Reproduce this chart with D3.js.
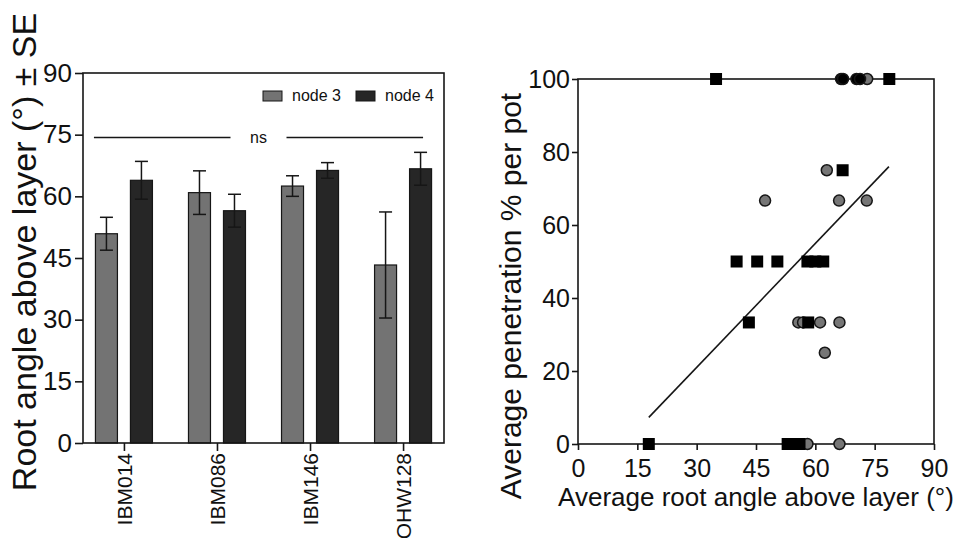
<!DOCTYPE html>
<html>
<head>
<meta charset="utf-8">
<script src="https://d3js.org/d3.v7.min.js"></script>
<style>
  body { margin: 0; background: #fff; }
  text { font-family: "Liberation Sans", Arial, sans-serif; fill: #111; }
</style>
</head>
<body>
<script>
// Left panel: root angle per genotype (mean +/- SE)
var genotypes = ["IBM014", "IBM086", "IBM146", "OHW128"];
var node3Mean = [50.9, 60.9, 62.5, 43.3];
var node3SE   = [4.0, 5.3, 2.5, 12.9];
var node4Mean = [63.9, 56.5, 66.3, 66.7];
var node4SE   = [4.6, 4.0, 1.9, 4.0];
var angleTicks = [0, 15, 30, 45, 60, 75, 90];
var nsLevel = 74.3;

// Right panel: penetration vs root angle
var squareAngle = [34.9, 78.7, 66.9, 40.1, 45.3, 50.4, 58.0, 60.0, 62.0, 43.2, 58.2, 17.9, 53.0, 54.5, 56.0];
var squarePen   = [100, 100, 75, 50, 50, 50, 50, 50, 50, 33.3, 33.3, 0, 0, 0, 0];
var circleAngle = [73.1, 62.9, 47.3, 66.0, 73.0, 55.7, 56.9, 61.2, 66.1, 62.4, 58.0, 66.1];
var circlePen   = [100, 75, 66.7, 66.7, 66.7, 33.3, 33.3, 33.3, 33.3, 25, 0, 0];
var darkAngle   = [66.5, 67.0, 70.4, 71.3];
var darkPen     = [100, 100, 100, 100];
var fitAngle = [17.9, 78.6];
var fitPen   = [7.3, 76.0];
var penTicks = [0, 20, 40, 60, 80, 100];

var ink = "#161616";

var svg = d3.select("body").append("svg")
    .attr("width", 957)
    .attr("height", 538);

// ---------- LEFT PANEL ----------
var x = d3.scalePoint().domain(genotypes).range([83, 444]).padding(0.44);
var y = d3.scaleLinear().domain([0, 90]).range([443, 73]);
var barW = 22, half = 6.5;

var left = svg.append("g");

var bars = [];
genotypes.forEach(function(g, i) {
    bars.push({ g: g, mean: node3Mean[i], se: node3SE[i], off: -half - barW, fill: "#737373" });
    bars.push({ g: g, mean: node4Mean[i], se: node4SE[i], off: half, fill: "#262626" });
});

left.selectAll("rect.bar")
    .data(bars)
    .enter()
    .append("rect")
    .attr("class", "bar")
    .attr("x", function(d) { return x(d.g) + d.off; })
    .attr("y", function(d) { return y(d.mean); })
    .attr("width", barW)
    .attr("height", function(d) { return y(0) - y(d.mean); })
    .attr("fill", function(d) { return d.fill; })
    .attr("stroke", ink)
    .attr("stroke-width", 1.2);

// error bars
var err = left.selectAll("g.err")
    .data(bars)
    .enter()
    .append("g")
    .attr("class", "err")
    .attr("stroke", ink)
    .attr("stroke-width", 1.5);
err.append("line")
    .attr("x1", function(d) { return x(d.g) + d.off + barW / 2; })
    .attr("x2", function(d) { return x(d.g) + d.off + barW / 2; })
    .attr("y1", function(d) { return y(d.mean - d.se); })
    .attr("y2", function(d) { return y(d.mean + d.se); });
[-1, 1].forEach(function(s) {
    err.append("line")
        .attr("x1", function(d) { return x(d.g) + d.off + barW / 2 - 6.5; })
        .attr("x2", function(d) { return x(d.g) + d.off + barW / 2 + 6.5; })
        .attr("y1", function(d) { return y(d.mean + s * d.se); })
        .attr("y2", function(d) { return y(d.mean + s * d.se); });
});

// frame
left.append("rect")
    .attr("x", 83).attr("y", 73)
    .attr("width", 444 - 83).attr("height", 443 - 73)
    .attr("fill", "none").attr("stroke", ink).attr("stroke-width", 1.6);

var yAxisL = left.append("g")
    .attr("transform", "translate(83,0)")
    .call(d3.axisLeft(y).tickValues(angleTicks).tickSize(8).tickPadding(3));
yAxisL.select(".domain").remove();
yAxisL.selectAll("line").attr("stroke", ink).attr("stroke-width", 1.6);
yAxisL.selectAll("text").style("font-size", "26px").attr("fill", "#111");

var xAxisL = left.append("g")
    .attr("transform", "translate(0,443)")
    .call(d3.axisBottom(x).tickSize(8));
xAxisL.select(".domain").remove();
xAxisL.selectAll("line").attr("stroke", ink).attr("stroke-width", 1.6);
xAxisL.selectAll("text")
    .style("font-size", "21px")
    .attr("fill", "#111")
    .attr("text-anchor", "end")
    .attr("transform", "rotate(-90)")
    .attr("x", -10)
    .attr("y", 0)
    .attr("dy", "0.36em");

// ns line
var nsY = y(nsLevel);
var nsL = x(genotypes[0]) - 30, nsR = x(genotypes[3]) + 20;
var nsMid = (nsL + nsR) / 2;
left.append("line").attr("x1", nsL).attr("x2", nsMid - 28).attr("y1", nsY).attr("y2", nsY)
    .attr("stroke", ink).attr("stroke-width", 1.5);
left.append("line").attr("x1", nsMid + 28).attr("x2", nsR).attr("y1", nsY).attr("y2", nsY)
    .attr("stroke", ink).attr("stroke-width", 1.5);
left.append("text").attr("x", nsMid).attr("y", nsY + 5)
    .attr("text-anchor", "middle").style("font-size", "16px").text("ns");

// legend
var legend = [{ name: "node 3", fill: "#737373", x: 263 }, { name: "node 4", fill: "#262626", x: 356 }];
var lg = left.selectAll("g.legend").data(legend).enter().append("g").attr("class", "legend");
lg.append("rect")
    .attr("x", function(d) { return d.x; }).attr("y", 91)
    .attr("width", 19).attr("height", 10)
    .attr("fill", function(d) { return d.fill; })
    .attr("stroke", ink).attr("stroke-width", 1);
lg.append("text")
    .attr("x", function(d) { return d.x + 29; }).attr("y", 101)
    .style("font-size", "16px")
    .text(function(d) { return d.name; });

// y title
left.append("text")
    .attr("transform", "translate(36,252) rotate(-90)")
    .attr("text-anchor", "middle")
    .style("font-size", "34px")
    .text("Root angle above layer (°) ± SE");

// ---------- RIGHT PANEL ----------
var xs = d3.scaleLinear().domain([0, 90]).range([578, 934]);
var ys = d3.scaleLinear().domain([0, 100]).range([444, 79]);

var right = svg.append("g");

right.append("rect")
    .attr("x", 578).attr("y", 79)
    .attr("width", 934 - 578).attr("height", 444 - 79)
    .attr("fill", "none").attr("stroke", ink).attr("stroke-width", 1.6);

var yAxisR = right.append("g")
    .attr("transform", "translate(578,0)")
    .call(d3.axisLeft(ys).tickValues(penTicks).tickSize(6).tickPadding(2));
yAxisR.select(".domain").remove();
yAxisR.selectAll("line").attr("stroke", ink).attr("stroke-width", 1.6);
yAxisR.selectAll("text").style("font-size", "25px").attr("fill", "#111");

var xAxisR = right.append("g")
    .attr("transform", "translate(0,444)")
    .call(d3.axisBottom(xs).tickValues(angleTicks).tickSize(6).tickPadding(9));
xAxisR.select(".domain").remove();
xAxisR.selectAll("line").attr("stroke", ink).attr("stroke-width", 1.6);
xAxisR.selectAll("text").style("font-size", "25px").attr("fill", "#111");

// fit line
right.append("path")
    .datum(d3.zip(fitAngle, fitPen))
    .attr("d", d3.line().x(function(d) { return xs(d[0]); }).y(function(d) { return ys(d[1]); }))
    .attr("stroke", ink).attr("stroke-width", 1.6).attr("fill", "none");

// gray circles
right.selectAll("circle.gray")
    .data(d3.zip(circleAngle, circlePen))
    .enter()
    .append("circle")
    .attr("class", "gray")
    .attr("cx", function(d) { return xs(d[0]); })
    .attr("cy", function(d) { return ys(d[1]); })
    .attr("r", 5.5)
    .attr("fill", "#767676")
    .attr("stroke", ink)
    .attr("stroke-width", 1.5);

// dark circles
right.selectAll("circle.dark")
    .data(d3.zip(darkAngle, darkPen))
    .enter()
    .append("circle")
    .attr("class", "dark")
    .attr("cx", function(d) { return xs(d[0]); })
    .attr("cy", function(d) { return ys(d[1]); })
    .attr("r", 5.5)
    .attr("fill", "#000")
    .attr("stroke", ink)
    .attr("stroke-width", 1.5);

// squares
right.selectAll("rect.sq")
    .data(d3.zip(squareAngle, squarePen))
    .enter()
    .append("rect")
    .attr("class", "sq")
    .attr("x", function(d) { return xs(d[0]) - 6; })
    .attr("y", function(d) { return ys(d[1]) - 6; })
    .attr("width", 12)
    .attr("height", 12)
    .attr("fill", "#000");

// titles
right.append("text")
    .attr("transform", "translate(521,296) rotate(-90)")
    .attr("text-anchor", "middle")
    .style("font-size", "30px")
    .text("Average  penetration % per pot");

right.append("text")
    .attr("x", 756).attr("y", 506)
    .attr("text-anchor", "middle")
    .style("font-size", "26px")
    .text("Average root angle above layer (°)");
</script>
</body>
</html>
